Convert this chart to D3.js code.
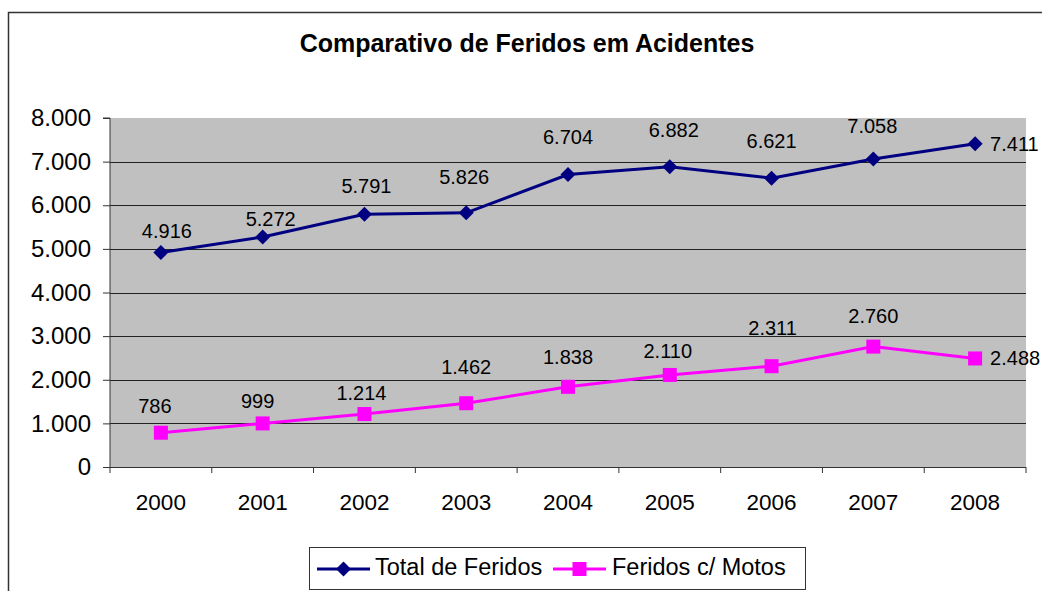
<!DOCTYPE html>
<html>
<head>
<meta charset="utf-8">
<script src="https://cdn.jsdelivr.net/npm/d3@7"></script>
<style>
  body { margin: 0; background: #fff; }
  text { font-family: "Liberation Sans", Arial, sans-serif; }
</style>
</head>
<body>
<div id="chart"></div>
<script>
// Data
const years = ["2000", "2001", "2002", "2003", "2004", "2005", "2006", "2007", "2008"];
const totalFeridos = [4916, 5272, 5791, 5826, 6704, 6882, 6621, 7058, 7411];
const feridosMotos = [786, 999, 1214, 1462, 1838, 2110, 2311, 2760, 2488];
const yTicks = [0, 1000, 2000, 3000, 4000, 5000, 6000, 7000, 8000];
const seriesNames = ["Total de Feridos", "Feridos c/ Motos"];

// label nudges (px) as placed in the original chart
const totalLabelDx = [6, 8, 2, -2, 0, 4, 0, -1, 0];
const totalLabelDy = [-15, -11, -21, -29, -31, -30, -30, -26, 0];
const motosLabelDx = [-6, -5, -3, 0, 0, -2, 1, 0, 0];
const motosLabelDy = [-20, -15, -14, -29, -23, -17, -31, -24, 0];

const width = 1042;
const height = 591;
const plot = { left: 110, top: 118, right: 1026, bottom: 467 };

// pt-BR style thousands separator
const fmt = (v) => v >= 1000 ? d3.format(",")(v).replace(/,/g, ".") : String(v);

const svg = d3
  .select("#chart")
  .append("svg")
  .attr("width", width)
  .attr("height", height);

// outer frame
svg.append("rect")
  .attr("x", 8.5).attr("y", 12.5)
  .attr("width", 1040).attr("height", 590)
  .attr("fill", "#fff")
  .attr("stroke", "#333").attr("stroke-width", 1.5);

svg.append("text")
  .attr("x", 527).attr("y", 52)
  .attr("text-anchor", "middle")
  .attr("font-size", 25).attr("font-weight", "bold")
  .text("Comparativo de Feridos em Acidentes");

const x = d3.scaleBand()
  .domain(years)
  .range([plot.left, plot.right]);

const y = d3.scaleLinear()
  .domain([0, 8000])
  .range([plot.bottom, plot.top]);

// plot background
svg.append("rect")
  .attr("x", plot.left).attr("y", plot.top)
  .attr("width", plot.right - plot.left).attr("height", plot.bottom - plot.top)
  .attr("fill", "#c0c0c0");

// gridlines
svg.append("g")
  .selectAll("line")
  .data(yTicks.filter((t) => t > 0 && t < 8000))
  .enter()
  .append("line")
  .attr("x1", plot.left).attr("x2", plot.right)
  .attr("y1", (d) => Math.round(y(d)) + 0.5).attr("y2", (d) => Math.round(y(d)) + 0.5)
  .attr("stroke", "#222").attr("stroke-width", 1);

// y axis
const yAxis = svg.append("g")
  .attr("transform", `translate(${plot.left},0)`)
  .call(d3.axisLeft(y).tickValues(yTicks).tickFormat(fmt).tickSize(7).tickPadding(12));
yAxis.selectAll("text").attr("font-size", 24).attr("fill", "#000")
  .attr("font-family", "Liberation Sans, Arial, sans-serif");
yAxis.selectAll("line").attr("stroke", "#333");
yAxis.select(".domain").attr("stroke", "#333").attr("d", `M-7,${plot.top}H0V${plot.bottom}`);

// x axis: ticks at category boundaries
const xAxis = svg.append("g")
  .attr("transform", `translate(0,${plot.bottom})`);
xAxis.append("line")
  .attr("x1", plot.left).attr("x2", plot.right)
  .attr("y1", 0.5).attr("y2", 0.5)
  .attr("stroke", "#333");
xAxis.selectAll("line.tick")
  .data(years.concat(["end"]))
  .enter()
  .append("line")
  .attr("class", "tick")
  .attr("x1", (d, i) => i < years.length ? x(d) : plot.right)
  .attr("x2", (d, i) => i < years.length ? x(d) : plot.right)
  .attr("y1", 0).attr("y2", 6)
  .attr("stroke", "#333");
xAxis.selectAll("text")
  .data(years)
  .enter()
  .append("text")
  .attr("x", (d) => x(d) + x.bandwidth() / 2)
  .attr("y", 43)
  .attr("text-anchor", "middle")
  .attr("font-size", 22.5)
  .text((d) => d);

const cx = (i) => x(years[i]) + x.bandwidth() / 2;

const line = d3.line()
  .x((d, i) => cx(i))
  .y((d) => y(d));

const series = [
  { name: seriesNames[0], values: totalFeridos, color: "#000080", marker: "diamond",
    dx: totalLabelDx, dy: totalLabelDy },
  { name: seriesNames[1], values: feridosMotos, color: "#ff00ff", marker: "square",
    dx: motosLabelDx, dy: motosLabelDy }
];

function drawMarker(g, type, color, px, py) {
  if (type === "diamond") {
    g.append("path")
      .attr("d", `M${px},${py - 7.5}L${px + 7.5},${py}L${px},${py + 7.5}L${px - 7.5},${py}Z`)
      .attr("fill", color);
  } else {
    g.append("rect")
      .attr("x", px - 7).attr("y", py - 7)
      .attr("width", 14).attr("height", 14)
      .attr("fill", color);
  }
}

series.forEach((s) => {
  const g = svg.append("g");
  const last = s.values.length - 1;
  g.append("path")
    .datum(s.values)
    .attr("d", line)
    .attr("fill", "none")
    .attr("stroke", s.color)
    .attr("stroke-width", 3);
  s.values.forEach((v, i) => drawMarker(g, s.marker, s.color, cx(i), y(v)));
  g.selectAll("text")
    .data(s.values)
    .enter()
    .append("text")
    .attr("x", (d, i) => i === last ? cx(i) + 15 : cx(i) + s.dx[i])
    .attr("y", (d, i) => i === last ? y(d) + 7 : y(d) + s.dy[i])
    .attr("text-anchor", (d, i) => i === last ? "start" : "middle")
    .attr("font-size", 20)
    .text(fmt);
});

// legend
const legend = svg.append("g");
legend.append("rect")
  .attr("x", 309.5).attr("y", 547.5)
  .attr("width", 496).attr("height", 42)
  .attr("fill", "#fff").attr("stroke", "#333").attr("stroke-width", 1);

const legendItems = [
  { x0: 317, textX: 375 },
  { x0: 553, textX: 612 }
];
series.forEach((s, i) => {
  const lx = legendItems[i].x0;
  const ly = 569;
  legend.append("line")
    .attr("x1", lx).attr("x2", lx + 53)
    .attr("y1", ly).attr("y2", ly)
    .attr("stroke", s.color).attr("stroke-width", 3);
  drawMarker(legend, s.marker, s.color, lx + 26.5, ly);
  legend.append("text")
    .attr("x", legendItems[i].textX).attr("y", ly + 6)
    .attr("font-size", 23.5)
    .text(s.name);
});
</script>
</body>
</html>
